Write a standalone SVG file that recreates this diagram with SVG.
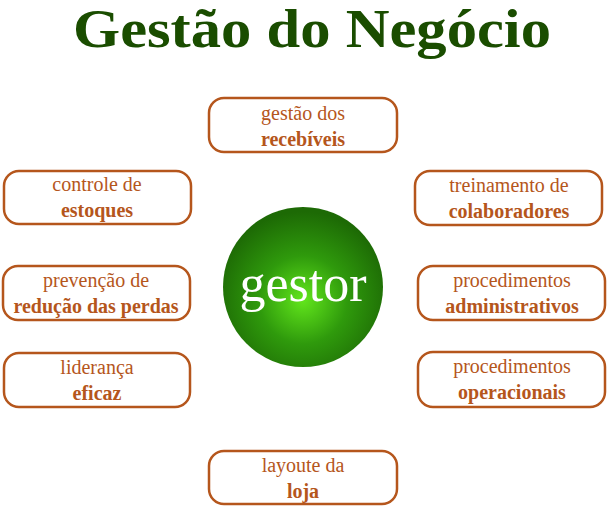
<svg xmlns="http://www.w3.org/2000/svg" width="607" height="507" viewBox="0 0 607 507">
<style>
.box{fill:#fff;stroke:#b5561c;stroke-width:2.5}
.t{font-family:"Liberation Serif",serif;font-size:20px;fill:#b5561c;text-anchor:middle}
.b{font-weight:bold}
</style>
<defs>
<radialGradient id="g" cx="50%" cy="58%" r="55%">
<stop offset="0" stop-color="#62e61c"/>
<stop offset="0.5" stop-color="#2f9a0c"/>
<stop offset="1" stop-color="#1d6a05"/>
</radialGradient>
</defs>
<rect width="607" height="507" fill="#fff"/>
<text x="312" y="47" font-family="Liberation Serif,serif" font-weight="bold" font-size="55" fill="#1a4d00" text-anchor="middle" textLength="478" lengthAdjust="spacingAndGlyphs">Gestão do Negócio</text>
<g id="connectors"></g>
<g id="center"><circle cx="303" cy="287" r="80" fill="url(#g)"/>
<text x="303" y="301" font-family="Liberation Serif,serif" font-size="52" fill="#fff" text-anchor="middle">gestor</text></g>
<g id="n1"><rect class="box" x="209" y="98" width="188" height="54" rx="15"/><text class="t" x="303" y="120">gestão dos</text><text class="t b" x="303" y="146">recebíveis</text></g>
<g id="n2"><rect class="box" x="4" y="171" width="187" height="53" rx="15"/><text class="t" x="97" y="191">controle de</text><text class="t b" x="97" y="217">estoques</text></g>
<g id="n3"><rect class="box" x="3" y="266" width="187" height="54" rx="15"/><text class="t" x="96" y="287">prevenção de</text><text class="t b" x="96" y="313">redução das perdas</text></g>
<g id="n4"><rect class="box" x="4" y="353" width="186" height="54" rx="15"/><text class="t" x="97" y="374">liderança</text><text class="t b" x="97" y="400">eficaz</text></g>
<g id="n5"><rect class="box" x="415" y="171" width="187" height="54" rx="15"/><text class="t" x="509" y="192">treinamento de</text><text class="t b" x="509" y="218">colaboradores</text></g>
<g id="n6"><rect class="box" x="418" y="266" width="187" height="54" rx="15"/><text class="t" x="512" y="287">procedimentos</text><text class="t b" x="512" y="313">administrativos</text></g>
<g id="n7"><rect class="box" x="418" y="352" width="187" height="55" rx="15"/><text class="t" x="512" y="373">procedimentos</text><text class="t b" x="512" y="399">operacionais</text></g>
<g id="n8"><rect class="box" x="209" y="451" width="188" height="53" rx="15"/><text class="t" x="303" y="472">layoute da</text><text class="t b" x="303" y="498">loja</text></g>
</svg>
